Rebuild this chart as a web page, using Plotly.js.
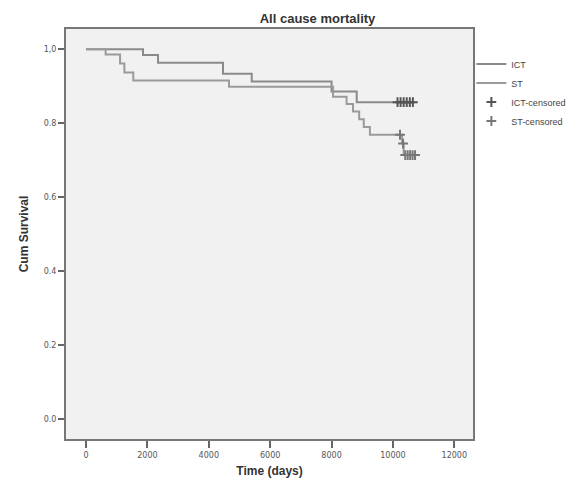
<!DOCTYPE html>
<html>
<head>
<meta charset="utf-8">
<script src="https://cdn.plot.ly/plotly-3.0.1.min.js"></script>
<style>html,body{margin:0;padding:0;background:#fff;}#chart{width:585px;height:488px;}</style>
</head>
<body>
<div id="chart"></div>
<script>
// Kaplan-Meier step data
var ictTime = [0, 1857, 2346, 4463, 5400, 8000, 8820, 10700];
var ictSurv = [1.0, 0.985, 0.964, 0.934, 0.913, 0.886, 0.857, 0.857];
var stTime = [0, 640, 1110, 1250, 1540, 4660, 8050, 8490, 8700, 8900, 9050, 9250, 10300, 10350, 10720];
var stSurv = [1.0, 0.986, 0.962, 0.937, 0.916, 0.899, 0.872, 0.852, 0.832, 0.811, 0.790, 0.769, 0.745, 0.714, 0.714];
var ictCensTime = [10150, 10250, 10350, 10450, 10550, 10650];
var ictCensSurv = [0.857, 0.857, 0.857, 0.857, 0.857, 0.857];
var stCensTime = [10230, 10330, 10400, 10480, 10560, 10640, 10720];
var stCensSurv = [0.769, 0.745, 0.714, 0.714, 0.714, 0.714, 0.714];
var yTickVals = [0, 0.2, 0.4, 0.6, 0.8, 1.0];
var yTickText = ["0.0", "0.2", "0.4", "0.6", "0.8", "1,0"];
var xTickVals = [0, 2000, 4000, 6000, 8000, 10000, 12000];
var xTickText = ["0", "2000", "4000", "6000", "8000", "10000", "12000"];

var traces = [
  {x: ictTime, y: ictSurv, name: 'ICT', mode: 'lines', line: {shape: 'hv', color: '#8a8a8a', width: 2}},
  {x: stTime, y: stSurv, name: 'ST', mode: 'lines', line: {shape: 'hv', color: '#9a9a9a', width: 2}},
  {x: ictCensTime, y: ictCensSurv, name: 'ICT-censored', mode: 'markers',
   marker: {symbol: 'cross-thin', size: 7, color: '#555', line: {color: '#555', width: 2}}},
  {x: stCensTime, y: stCensSurv, name: 'ST-censored', mode: 'markers',
   marker: {symbol: 'cross-thin', size: 7, color: '#777', line: {color: '#777', width: 2}}}
];

var layout = {
  width: 585, height: 488,
  margin: {l: 66, r: 112, t: 29, b: 49},
  paper_bgcolor: '#ffffff',
  plot_bgcolor: '#f1f1f1',
  showlegend: true,
  title: {text: '<b>All cause mortality</b>', x: 0.618, xref: 'paper', xanchor: 'center', y: 0.963, yref: 'container', yanchor: 'middle',
          font: {family: 'Liberation Sans, Arial', size: 13, color: '#333'}},
  legend: {x: 0.996, xanchor: 'left', y: 0.95, yanchor: 'top', bgcolor: 'rgba(0,0,0,0)',
           font: {family: 'Liberation Sans, Arial', size: 9, color: '#444'}, tracegroupgap: 0, itemwidth: 30},
  xaxis: {
    range: [-652, 12609], tickvals: xTickVals, ticktext: xTickText, ticks: 'outside', ticklen: 7, tickwidth: 2, tickcolor: '#666',
    showgrid: false, zeroline: false, showline: true, linecolor: '#777', linewidth: 2, mirror: true,
    tickfont: {family: 'DejaVu Sans', size: 8, color: '#555'},
    title: {text: '<b>Time (days)</b>', standoff: 8, font: {family: 'Liberation Sans, Arial', size: 12, color: '#333'}}
  },
  yaxis: {
    range: [-0.054, 1.055], tickvals: yTickVals, ticktext: yTickText, ticks: 'outside', ticklen: 6, tickwidth: 2, tickcolor: '#666',
    showgrid: false, zeroline: false, showline: true, linecolor: '#777', linewidth: 2, mirror: true,
    tickfont: {family: 'DejaVu Sans', size: 8, color: '#555'},
    title: {text: '<b>Cum Survival</b>', standoff: 12, font: {family: 'Liberation Sans, Arial', size: 12, color: '#333'}}
  }
};

Plotly.newPlot('chart', traces, layout, {displayModeBar: false, staticPlot: true});
</script>
</body>
</html>
